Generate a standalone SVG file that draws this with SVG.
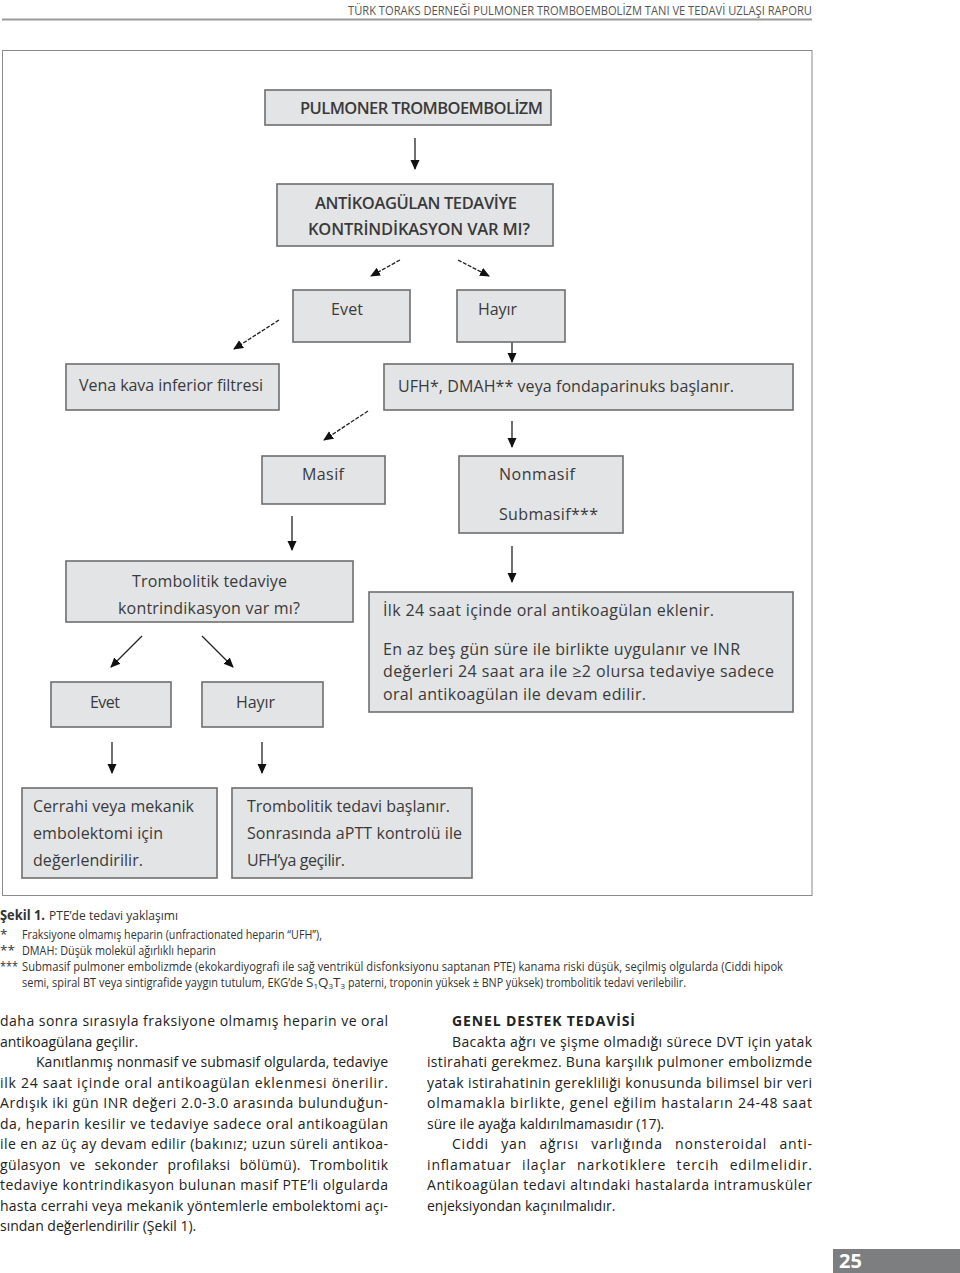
<svg xmlns="http://www.w3.org/2000/svg" width="960" height="1273" viewBox="0 0 960 1273">
<defs>
<marker id="ah" viewBox="0 0 10 10" refX="9" refY="5" markerWidth="10" markerHeight="10" markerUnits="userSpaceOnUse" orient="auto">
<path d="M0,0.5 L10,5 L0,9.5 Z" fill="#111"/>
</marker>
<style>
.bx{fill:#e3e4e6;stroke:#6e6e6e;stroke-width:1.6}
.bt{font-family:"Open Sans",Lato,sans-serif;font-size:16px;fill:#3a3a3a}
.bb{font-weight:600;font-size:16.5px}
.ar{stroke:#222;stroke-width:1.3;fill:none;marker-end:url(#ah)}
.ds{stroke-dasharray:4 1.5}
.hd{font-family:"Open Sans","Liberation Sans",sans-serif;font-size:12px;fill:#555}
.cap{font-family:"Open Sans","Liberation Sans",sans-serif;font-size:13.5px;fill:#333}
.body{font-family:"Open Sans","Liberation Sans",sans-serif;font-size:14px;fill:#222}
</style>
</defs>
<rect width="960" height="1273" fill="#fff"/>
<g id="header">
<text class="hd" x="348" y="15" textLength="464" lengthAdjust="spacingAndGlyphs">TÜRK TORAKS DERNEĞİ PULMONER TROMBOEMBOLİZM TANI VE TEDAVİ UZLAŞI RAPORU</text>
<line x1="2" y1="19.5" x2="812" y2="19.5" stroke="#9a9a9a" stroke-width="2"/>
</g>
<rect id="frame" x="2.5" y="50.5" width="809.5" height="845" fill="none" stroke="#8a8a8a" stroke-width="1"/>
<g id="connectors">
<line class="ar" x1="415" y1="138" x2="415" y2="169"/>
<line class="ar ds" x1="400" y1="260" x2="371" y2="276"/>
<line class="ar ds" x1="458" y1="260" x2="489" y2="276"/>
<line class="ar ds" x1="279" y1="320" x2="234" y2="349"/>
<line class="ar" x1="512" y1="342" x2="512" y2="362"/>
<line class="ar ds" x1="368" y1="411" x2="324" y2="440"/>
<line class="ar" x1="512" y1="421" x2="512" y2="447"/>
<line class="ar" x1="292" y1="516" x2="292" y2="550"/>
<line class="ar" x1="512" y1="546" x2="512" y2="582"/>
<line class="ar" x1="142" y1="636" x2="111" y2="667"/>
<line class="ar" x1="202" y1="636" x2="233" y2="667"/>
<line class="ar" x1="112" y1="742" x2="112" y2="773"/>
<line class="ar" x1="262" y1="742" x2="262" y2="773"/>
</g>
<g id="n-pte">
<rect class="bx" x="265" y="90" width="286" height="35"/>
<text class="bt bb" x="300" y="114" textLength="243">PULMONER TROMBOEMBOLİZM</text>
</g>
<g id="n-antikoag">
<rect class="bx" x="277" y="184" width="276" height="62"/>
<text class="bt bb" x="315" y="209" textLength="202">ANTİKOAGÜLAN TEDAVİYE</text>
<text class="bt bb" x="308" y="235" textLength="222">KONTRİNDİKASYON VAR MI?</text>
</g>
<g id="n-evet1">
<rect class="bx" x="293" y="290" width="117" height="52"/>
<text class="bt" x="331" y="315" textLength="32">Evet</text>
</g>
<g id="n-hayir1">
<rect class="bx" x="457" y="290" width="108" height="52"/>
<text class="bt" x="478" y="315" textLength="39">Hayır</text>
</g>
<g id="n-vkf">
<rect class="bx" x="66" y="364" width="213" height="46"/>
<text class="bt" x="79" y="391" textLength="184">Vena kava inferior filtresi</text>
</g>
<g id="n-ufh">
<rect class="bx" x="384" y="364" width="409" height="46"/>
<text class="bt" x="398" y="392" textLength="336">UFH*, DMAH** veya fondaparinuks başlanır.</text>
</g>
<g id="n-masif">
<rect class="bx" x="262" y="456" width="123" height="48"/>
<text class="bt" x="302" y="480" textLength="42">Masif</text>
</g>
<g id="n-nonmasif">
<rect class="bx" x="459" y="456" width="164" height="77"/>
<text class="bt" x="499" y="480" textLength="76">Nonmasif</text>
<text class="bt" x="499" y="520" textLength="99">Submasif***</text>
</g>
<g id="n-tromb-q">
<rect class="bx" x="66" y="561" width="287" height="61"/>
<text class="bt" x="132" y="587" textLength="155">Trombolitik tedaviye</text>
<text class="bt" x="118" y="614" textLength="182">kontrindikasyon var mı?</text>
</g>
<g id="n-oral">
<rect class="bx" x="369" y="592" width="424" height="120"/>
<text class="bt" x="383" y="616" textLength="331">İlk 24 saat içinde oral antikoagülan eklenir.</text>
<text class="bt" x="383" y="655" textLength="357">En az beş gün süre ile birlikte uygulanır ve INR</text>
<text class="bt" x="383" y="677" textLength="391">değerleri 24 saat ara ile  ≥2 olursa tedaviye sadece</text>
<text class="bt" x="383" y="700" textLength="263">oral antikoagülan ile devam edilir.</text>
</g>
<g id="n-evet2">
<rect class="bx" x="51" y="682" width="120" height="45"/>
<text class="bt" x="90" y="708" textLength="30">Evet</text>
</g>
<g id="n-hayir2">
<rect class="bx" x="202" y="682" width="121" height="45"/>
<text class="bt" x="236" y="708" textLength="39">Hayır</text>
</g>
<g id="n-cerrahi">
<rect class="bx" x="22" y="788" width="195" height="90"/>
<text class="bt" x="33" y="812" textLength="161">Cerrahi veya mekanik</text>
<text class="bt" x="33" y="839" textLength="130">embolektomi için</text>
<text class="bt" x="33" y="866" textLength="110">değerlendirilir.</text>
</g>
<g id="n-trombolitik">
<rect class="bx" x="232" y="788" width="240" height="90"/>
<text class="bt" x="247" y="812" textLength="203">Trombolitik tedavi başlanır.</text>
<text class="bt" x="247" y="839" textLength="215">Sonrasında aPTT kontrolü ile</text>
<text class="bt" x="247" y="866" textLength="98">UFH’ya geçilir.</text>
</g>
<g id="caption">
<text class="cap" x="0" y="920" font-weight="700" font-size="14px" fill="#222" textLength="45" lengthAdjust="spacingAndGlyphs">Şekil 1.</text>
<text class="cap" x="49" y="920" textLength="129" lengthAdjust="spacingAndGlyphs" font-size="14px">PTE’de tedavi yaklaşımı</text>
<text class="cap" x="0" y="939">*</text>
<text class="cap" x="22" y="939" textLength="300" lengthAdjust="spacingAndGlyphs">Fraksiyone olmamış heparin (unfractionated heparin “UFH”),</text>
<text class="cap" x="0" y="955">**</text>
<text class="cap" x="22" y="955" textLength="194" lengthAdjust="spacingAndGlyphs">DMAH: Düşük molekül ağırlıklı heparin</text>
<text class="cap" x="0" y="971" textLength="18" lengthAdjust="spacingAndGlyphs">***</text>
<text class="cap" x="22" y="971" textLength="761" lengthAdjust="spacingAndGlyphs">Submasif pulmoner embolizmde (ekokardiyografi ile sağ ventrikül disfonksiyonu saptanan PTE) kanama riski düşük, seçilmiş olgularda (Ciddi hipok</text>
<text class="cap" x="22" y="987" textLength="281" lengthAdjust="spacingAndGlyphs">semi, spiral BT veya sintigrafide yaygın tutulum, EKG’de</text>
<text class="cap" x="306" y="987">S<tspan dy="2" font-size="8px">1</tspan><tspan dy="-2">Q</tspan><tspan dy="2" font-size="8px">3</tspan><tspan dy="-2">T</tspan><tspan dy="2" font-size="8px">3</tspan></text>
<text class="cap" x="348" y="987" textLength="338" lengthAdjust="spacingAndGlyphs">paterni, troponin yüksek ± BNP yüksek)  trombolitik tedavi verilebilir.</text>
</g>
<g id="body-left">
<text class="body" x="0" y="1026" textLength="388">daha sonra sırasıyla fraksiyone olmamış heparin ve oral</text>
<text class="body" x="0" y="1046.5">antikoagülana geçilir.</text>
<text class="body" x="36" y="1067" textLength="352">Kanıtlanmış nonmasif ve submasif olgularda, tedaviye</text>
<text class="body" x="0" y="1087.5" textLength="388">ilk 24 saat içinde oral antikoagülan eklenmesi önerilir.</text>
<text class="body" x="0" y="1108" textLength="388">Ardışık iki gün INR değeri 2.0-3.0 arasında bulunduğun-</text>
<text class="body" x="0" y="1128.5" textLength="388">da, heparin kesilir ve tedaviye sadece oral antikoagülan</text>
<text class="body" x="0" y="1149" textLength="388">ile en az üç ay devam edilir (bakınız; uzun süreli antikoa-</text>
<text class="body" x="0" y="1169.5" textLength="388" word-spacing="5px">gülasyon ve sekonder profilaksi bölümü). Trombolitik</text>
<text class="body" x="0" y="1190" textLength="388">tedaviye kontrindikasyon bulunan masif PTE’li olgularda</text>
<text class="body" x="0" y="1210.5" textLength="388">hasta cerrahi veya mekanik yöntemlerle embolektomi açı-</text>
<text class="body" x="0" y="1231">sından değerlendirilir (Şekil 1).</text>
</g>
<g id="body-right">
<text class="body" x="452" y="1026" font-weight="700" textLength="183">GENEL DESTEK TEDAVİSİ</text>
<text class="body" x="452" y="1046.5" textLength="360">Bacakta ağrı ve şişme olmadığı sürece DVT için yatak</text>
<text class="body" x="427" y="1067" textLength="385">istirahati gerekmez. Buna karşılık pulmoner embolizmde</text>
<text class="body" x="427" y="1087.5" textLength="385">yatak istirahatinin gerekliliği konusunda bilimsel bir veri</text>
<text class="body" x="427" y="1108" textLength="385">olmamakla birlikte, genel eğilim hastaların 24-48 saat</text>
<text class="body" x="427" y="1128.5">süre ile ayağa kaldırılmamasıdır (17).</text>
<text class="body" x="452" y="1149" textLength="360" word-spacing="8px">Ciddi yan ağrısı varlığında nonsteroidal anti-</text>
<text class="body" x="427" y="1169.5" textLength="385" word-spacing="6px">inflamatuar ilaçlar narkotiklere tercih edilmelidir.</text>
<text class="body" x="427" y="1190" textLength="385">Antikoagülan tedavi altındaki hastalarda intramusküler</text>
<text class="body" x="427" y="1210.5">enjeksiyondan kaçınılmalıdır.</text>
</g>
<g id="page-number">
<rect x="833" y="1249" width="127" height="24" fill="#7d7e80"/>
<text x="839" y="1268" font-family="'Open Sans','Liberation Sans',sans-serif" font-weight="700" font-size="20px" fill="#fff">25</text>
</g>
</svg>
